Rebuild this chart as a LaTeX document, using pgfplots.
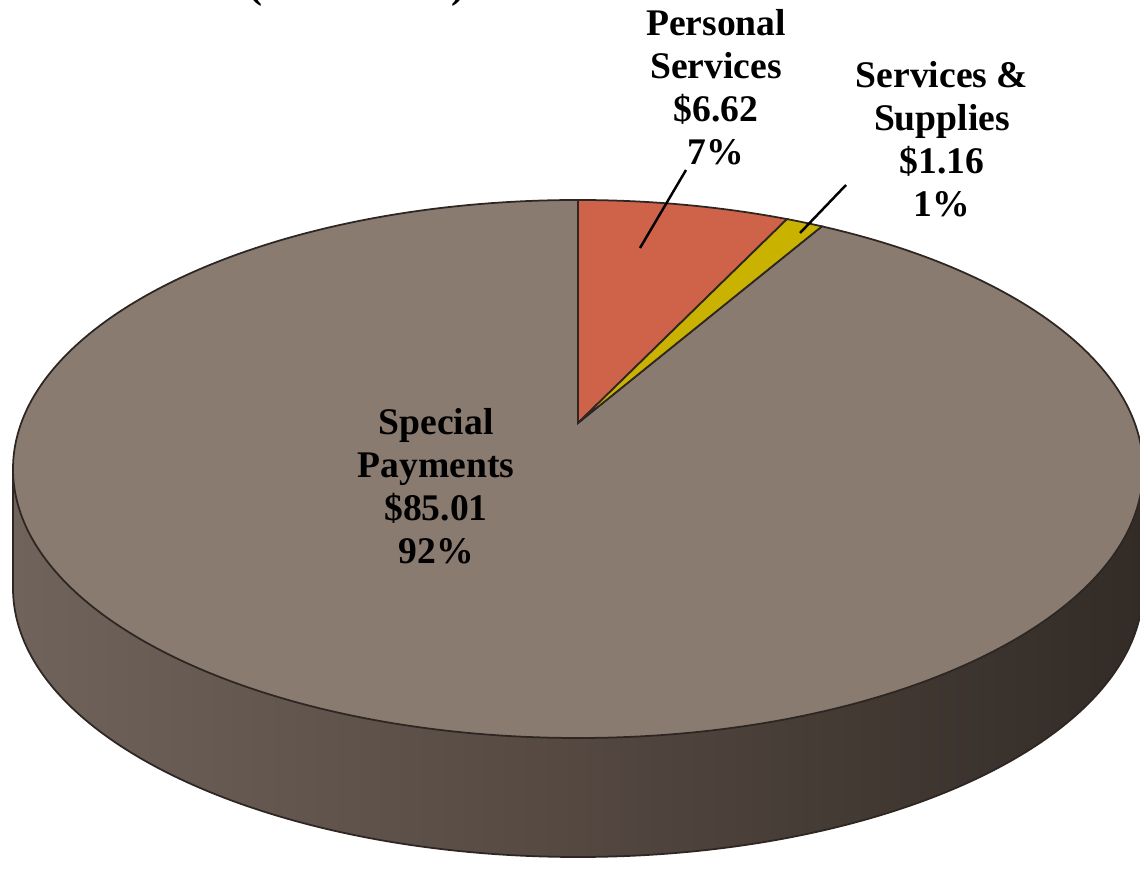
\documentclass[border=0pt]{standalone}
\usepackage{pgfplots}
\pgfplotsset{compat=1.18}
\usepackage{fontspec}
\setmainfont{Liberation Serif}
\definecolor{spc}{RGB}{138,123,113}
\definecolor{psc}{RGB}{206,99,74}
\definecolor{ssc}{RGB}{201,178,0}
\definecolor{sideL}{RGB}{112,99,91}
\definecolor{sideM}{RGB}{84,72,65}
\definecolor{sideR}{RGB}{50,43,38}
\definecolor{edge}{RGB}{45,38,34}
% data (in millions)
\def\valSP{85.01}
\def\valPS{6.62}
\def\valSS{1.16}
\begin{document}
\begin{tikzpicture}
\useasboundingbox (0,0) rectangle (114mm,87.1mm);
% geometry (pixels of the reference)
\pgfmathsetmacro\cx{578}
\pgfmathsetmacro\cy{402}
\pgfmathsetmacro\rx{565}
\pgfmathsetmacro\ry{269}
\pgfmathsetmacro\kk{0.171}
\pgfmathsetmacro\tot{\valSP+\valPS+\valSS}
\pgfmathsetmacro\aB{90-360*\valPS/\tot}
\pgfmathsetmacro\aC{\aB-360*\valSS/\tot}
% perspective projection of circle angle -> ellipse parameter
\pgfmathsetmacro\dB{1+\kk*sin(\aB)}
\pgfmathsetmacro\tB{atan2((sin(\aB)+\kk)/\dB, cos(\aB)*sqrt(1-\kk*\kk)/\dB)}
\pgfmathsetmacro\dC{1+\kk*sin(\aC)}
\pgfmathsetmacro\tC{atan2((sin(\aC)+\kk)/\dC, cos(\aC)*sqrt(1-\kk*\kk)/\dC)}
\pgfmathsetmacro\xB{\cx+\rx*cos(\tB)}
\pgfmathsetmacro\yB{\cy+\ry*sin(\tB)}
\pgfmathsetmacro\xC{\cx+\rx*cos(\tC)}
\pgfmathsetmacro\yC{\cy+\ry*sin(\tC)}
\pgfmathsetmacro\ay{\cy+\ry*\kk}
\pgfmathsetmacro\tCe{\tC+360}
\begin{axis}[
  x=0.1mm, y=0.1mm,
  xmin=0, xmax=1140, ymin=0, ymax=871,
  hide axis, clip=false,
  anchor=origin, at={(0,0)},
]
% side of the cylinder
\fill[left color=sideL, right color=sideR, middle color=sideM]
  (axis cs:{\cx-\rx},\cy) arc[start angle=180, end angle=360, x radius=56.5mm, y radius=26.9mm]
  -- ++(0,-11.9mm) arc[start angle=360, end angle=180, x radius=56.5mm, y radius=26.9mm] -- cycle;
\draw[edge, line width=0.5pt]
  (axis cs:{\cx-\rx},\cy) -- ++(0,-11.9mm) arc[start angle=180, end angle=360, x radius=56.5mm, y radius=26.9mm] -- ++(0,11.9mm);
% Special Payments
\filldraw[fill=spc, draw=edge, line width=0.5pt]
  (axis cs:\cx,\ay) -- (axis cs:\cx,{\cy+\ry}) arc[start angle=90, end angle=\tCe, x radius=56.5mm, y radius=26.9mm] -- cycle;
% Personal Services
\filldraw[fill=psc, draw=edge, line width=0.5pt]
  (axis cs:\cx,\ay) -- (axis cs:\xB,\yB) arc[start angle=\tB, end angle=90, x radius=56.5mm, y radius=26.9mm] -- cycle;
% Services & Supplies
\filldraw[fill=ssc, draw=edge, line width=0.5pt]
  (axis cs:\cx,\ay) -- (axis cs:\xC,\yC) arc[start angle=\tC, end angle=\tB, x radius=56.5mm, y radius=26.9mm] -- cycle;
% leader lines
\draw[black, line width=0.7pt] (axis cs:686,701) -- (axis cs:640,623);
\draw[black, line width=0.7pt] (axis cs:846,686) -- (axis cs:800,638);
% labels
\tikzset{lbl/.style={align=center, font=\bfseries\fontsize{10.7}{12.2}\selectfont, inner sep=0pt}}
\node[lbl] at (axis cs:436,385) {Special\\Payments\\\$85.01\\92\%};
\node[lbl] at (axis cs:716,784) {Personal\\Services\\\$6.62\\7\%};
\node[lbl] at (axis cs:942,732) {Services \&\\Supplies\\\$1.16\\1\%};
\node[anchor=base, font=\bfseries\fontsize{12}{14}\selectfont, inner sep=0pt] at (axis cs:357,873) {(in millions)};
\end{axis}
\end{tikzpicture}
\end{document}
